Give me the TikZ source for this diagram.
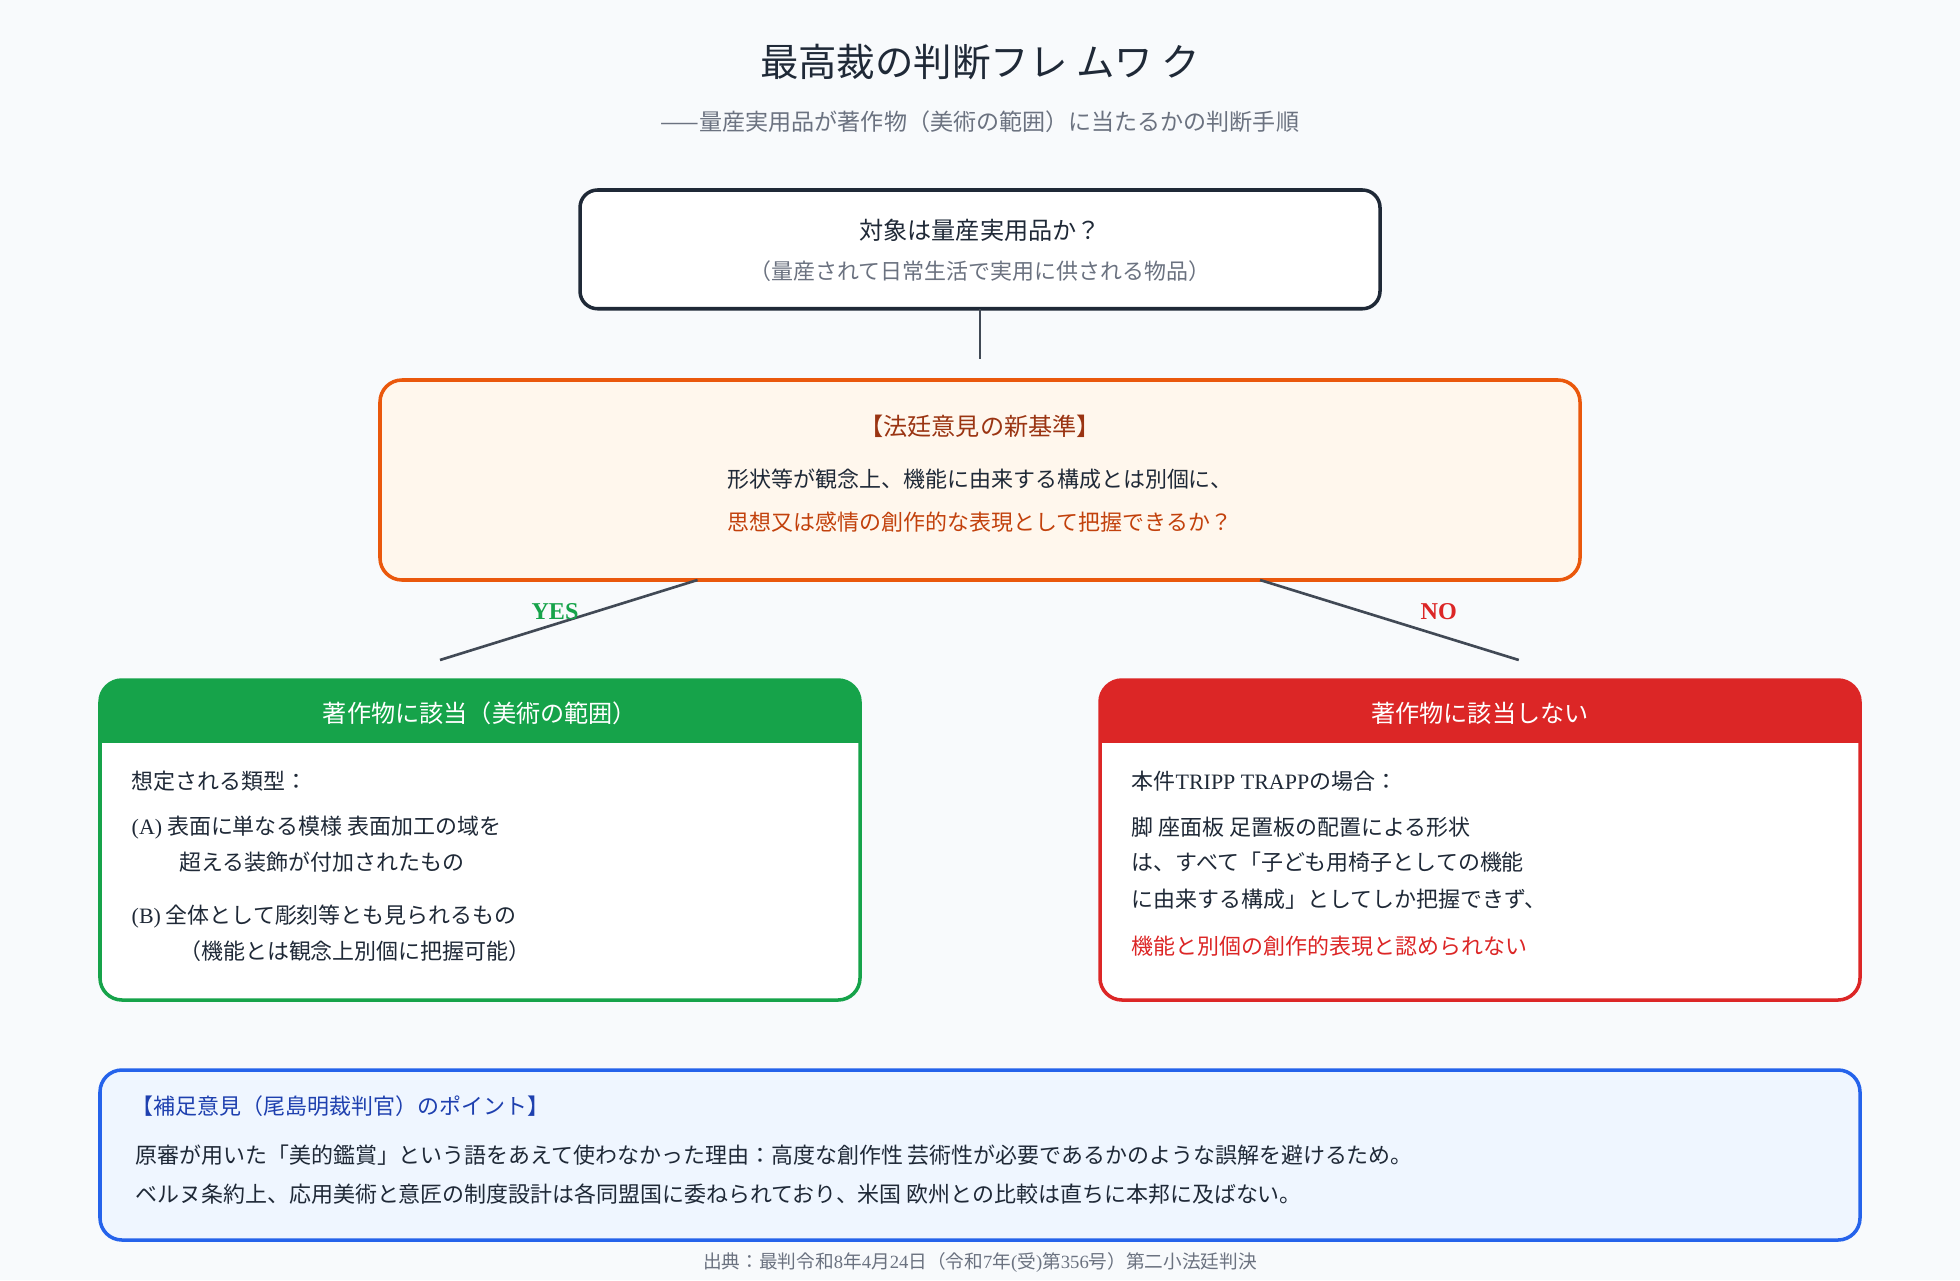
\documentclass[tikz,border=0pt]{standalone}
\usepackage{fontspec}
\setmainfont{Noto Sans CJK JP}
\newfontfamily\lat{Liberation Serif}
\definecolor{bg}{HTML}{F8FAFC}
\definecolor{ink}{HTML}{1F2937}
\definecolor{gr}{HTML}{6B7280}
\definecolor{og}{HTML}{EA580C}
\definecolor{ogf}{HTML}{FFF7ED}
\definecolor{br}{HTML}{9A3412}
\definecolor{ogt}{HTML}{C2410C}
\definecolor{gn}{HTML}{16A34A}
\definecolor{rd}{HTML}{DC2626}
\definecolor{bl}{HTML}{2563EB}
\definecolor{blf}{HTML}{EFF6FF}
\definecolor{bld}{HTML}{1E40AF}
\begin{document}
\begin{tikzpicture}[x=0.02cm,y=-0.02cm,
 t/.style={inner sep=0pt,font=\fontsize{10}{12}\selectfont,text=ink},
 tl/.style={t,anchor=west},
 conn/.style={draw=ink!85,line width=1.2pt}]
\fill[bg] (0,0) rectangle (1568,1024);
\useasboundingbox (0,0) rectangle (1568,1024);
\node[t,font=\fontsize{17.5}{20}\selectfont] (title) at (784,50) {最高裁の判断フレ ムワ ク};
\node[t,text=gr,font=\fontsize{10.5}{12}\selectfont] (sub) at (784,97) {——量産実用品が著作物（美術の範囲）に当たるかの判断手順};
% box1
\draw[draw=ink,line width=1.6pt,fill=white,rounded corners=8] (464,152) rectangle (1104,247);
\node[t,font=\fontsize{11}{13}\selectfont] (q1) at (784,184) {対象は量産実用品か？};
\node[t,text=gr] (q1b) at (784,217) {（量産されて日常生活で実用に供される物品）};
\coordinate (b1s) at (784,247); \coordinate (b1e) at (784,287);
\draw[conn] (b1s) -- (b1e);
% box2
\draw[draw=og,line width=1.6pt,fill=ogf,rounded corners=10] (304,304) rectangle (1264,464);
\node[t,text=br,font=\fontsize{11}{13}\selectfont] (h2) at (784,341) {【法廷意見の新基準】};
\node[t] (l2a) at (784,383) {形状等が観念上、機能に由来する構成とは別個に、};
\node[t,text=ogt] (l2b) at (784,418) {思想又は感情の創作的な表現として把握できるか？};
% branches
\coordinate (ys) at (558,464); \coordinate (ye) at (352,528);
\coordinate (ns) at (1008,464); \coordinate (ne) at (1215,528);
\draw[conn] (ys) -- (ye); \draw[conn] (ns) -- (ne);
\node[t,text=gn,font=\lat\bfseries\fontsize{11}{13}\selectfont] (yes) at (444,489) {YES};
\node[t,text=rd,font=\lat\bfseries\fontsize{11}{13}\selectfont] (no) at (1151,489) {NO};
% green box
\draw[draw=gn,line width=1.6pt,fill=white,rounded corners=10] (80,544) rectangle (688,800);
\fill[gn,rounded corners=10] (80,544) rectangle (688,594);
\fill[gn] (81,575) rectangle (687,594);
\node[t,text=white,font=\fontsize{11}{13}\selectfont] (gh) at (384,571) {著作物に該当（美術の範囲）};
\node[tl] (g1) at (105,625) {想定される類型：};
\node[tl] (g2) at (105,662) {{\lat (A)} 表面に単なる模様 表面加工の域を};
\node[tl] (g3) at (143,690) {超える装飾が付加されたもの};
\node[tl] (g4) at (105,733) {{\lat (B)} 全体として彫刻等とも見られるもの};
\node[tl] (g5) at (143,761) {（機能とは観念上別個に把握可能）};
% red box
\draw[draw=rd,line width=1.6pt,fill=white,rounded corners=10] (880,544) rectangle (1488,800);
\fill[rd,rounded corners=10] (880,544) rectangle (1488,594);
\fill[rd] (881,575) rectangle (1487,594);
\node[t,text=white,font=\fontsize{11}{13}\selectfont] (rh) at (1184,571) {著作物に該当しない};
\node[tl] (r1) at (905,625) {本件{\lat TRIPP TRAPP}の場合：};
\node[tl] (r2) at (905,662) {脚 座面板 足置板の配置による形状};
\node[tl] (r3) at (905,690) {は、すべて「子ども用椅子としての機能};
\node[tl] (r4) at (905,719) {に由来する構成」としてしか把握できず、};
\node[tl,text=rd] (r5) at (905,757) {機能と別個の創作的表現と認められない};
% bottom box
\draw[draw=bl,line width=1.6pt,fill=blf,rounded corners=10] (80,856) rectangle (1488,992);
\node[tl,text=bld] (bh) at (105,885) {【補足意見（尾島明裁判官）のポイント】};
\node[tl] (bl1) at (108,924) {原審が用いた「美的鑑賞」という語をあえて使わなかった理由：高度な創作性 芸術性が必要であるかのような誤解を避けるため。};
\node[tl] (bl2) at (108,955) {ベルヌ条約上、応用美術と意匠の制度設計は各同盟国に委ねられており、米国 欧州との比較は直ちに本邦に及ばない。};
\node[t,text=gr,font=\fontsize{8.5}{10}\selectfont] (src) at (784,1010) {出典：最判令和{\lat 8}年{\lat 4}月{\lat 24}日（令和{\lat 7}年{\lat (}受{\lat )}第{\lat 356}号）第二小法廷判決};
\end{tikzpicture}
\end{document}
